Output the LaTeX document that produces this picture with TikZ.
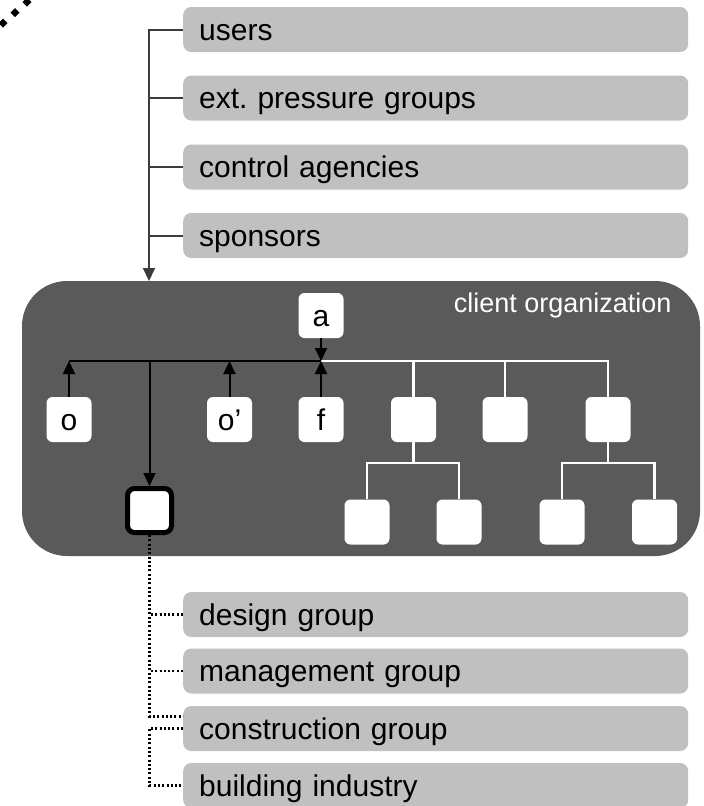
\documentclass[tikz,border=0pt]{standalone}
\usepackage{fontspec}
\setmainfont{Liberation Sans}
\usetikzlibrary{arrows.meta}
\definecolor{boxgray}{RGB}{192,192,192}
\definecolor{orggray}{RGB}{90,90,90}
\definecolor{linegray}{RGB}{60,60,60}

\begin{document}
\begin{tikzpicture}[x=1pt, y=-1pt,
  grp/.style={fill=boxgray, rounded corners=8pt, anchor=west, minimum height=45pt,
    text width=473pt, inner xsep=16pt, inner ysep=0pt, align=left,
    text height=25pt, text depth=4pt, font=\fontsize{30}{36}\selectfont},
  unit/.style={fill=white, rounded corners=6pt, minimum size=45pt, inner sep=0pt,
    text height=25pt, text depth=4pt, font=\fontsize{30}{36}\selectfont},
  leadunit/.style={unit, draw=black, line width=5pt, minimum size=44pt, rounded corners=7pt},
  conn/.style={draw=linegray, line width=2pt},
  blk/.style={draw=black, line width=2pt},
  wht/.style={draw=white, line width=2.5pt},
  dots/.style={draw=black, line width=2.5pt, dash pattern=on 2pt off 2.3pt},
  tip/.style={-{Triangle[length=13pt, width=12pt]}}
]
  \useasboundingbox (0,0) rectangle (704,806);

  % fragment in the corner
  \foreach \i in {0,1,2}
    \fill[shift={(3+12*\i,23-10.5*\i)}] (0,-4.5) -- (4.5,0) -- (0,4.5) -- (-4.5,0) -- cycle;

  % outside parties
  \node[grp] (users) at (183,29.5) {users};
  \node[grp] (ext)   at (183,98)   {ext.\ pressure groups};
  \node[grp] (ctrl)  at (183,167)  {control agencies};
  \node[grp] (spons) at (183,235.5) {sponsors};

  % client organization
  \node[fill=orggray, rounded corners=45pt, minimum width=678pt, minimum height=275pt] (org) at (361,418.5) {};
  \node[anchor=base east, text=white, font=\fontsize{27}{32}\selectfont] (orglabel) at (675,312) {client organization};

  \node[unit] (a)  at (321,315.5) {a};
  \node[unit] (o)  at (69,419.5)  {o};
  \node[unit] (o2) at (229.5,419.5) {o’};
  \node[unit] (f)  at (321,419.5) {f};
  \node[unit] (r1) at (413.5,419.5) {};
  \node[unit] (r2) at (505,419.5) {};
  \node[unit] (r3) at (608,419.5) {};
  \node[unit] (s1) at (367,522) {};
  \node[unit] (s2) at (459,522) {};
  \node[unit] (s3) at (562,522) {};
  \node[unit] (s4) at (654.5,522) {};
  \node[leadunit] (lead) at (149.5,510.5) {};

  % project groups
  \node[grp] (design) at (183,614.5) {design group};
  \node[grp] (manage) at (183,671)   {management group};
  \node[grp] (cons)   at (183,728.5) {construction group};
  \node[grp] (build)  at (183,785.5) {building industry};

  % top connectors
  \coordinate (spine) at (149,281);
  \draw[conn, tip] (users.west) -| (spine);
  \foreach \n in {ext, ctrl, spons}
    \draw[conn] (\n.west) -- (\n.west -| spine);

  % hierarchy
  \coordinate (bar) at (321,361);
  \coordinate (j1) at (413.5,463);
  \coordinate (j3) at (608,463);
  \draw[wht] (bar) -| (r3);
  \draw[wht] (bar -| r1) -- (r1);
  \draw[wht] (bar -| r2) -- (r2);
  \draw[wht] (r1) -- (j1);
  \draw[wht] (s1) |- (j1) -| (s2);
  \draw[wht] (r3) -- (j3);
  \draw[wht] (s3) |- (j3) -| (s4);

  \draw[blk] (bar -| o) -- (bar);
  \draw[blk, tip] (a) -- (bar);
  \draw[blk, tip] (f) -- (bar);
  \draw[blk, tip] (o) -- (bar -| o);
  \draw[blk, tip] (o2) -- (bar -| o2);
  \draw[blk, tip] (bar -| lead) -- (lead);

  % bottom connectors
  \draw[dots] (lead) |- ([yshift=12pt]cons.west);
  \draw[dots] (design.west) -- (design.west -| lead);
  \draw[dots] (manage.west) -- (manage.west -| lead);
  \draw[dots] (cons.west) -| (lead |- build.west) -- (build.west);
\end{tikzpicture}
\end{document}
